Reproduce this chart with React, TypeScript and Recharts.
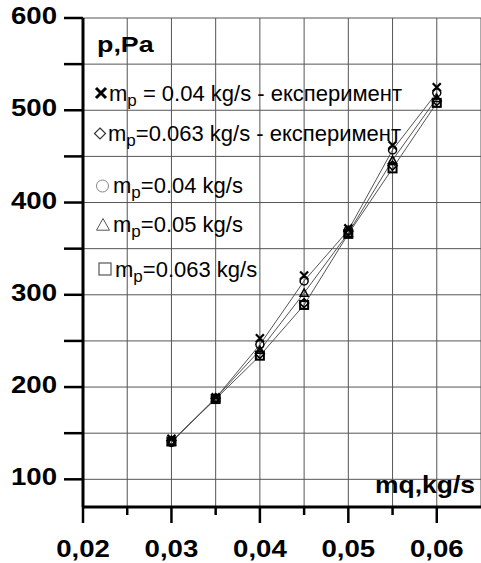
import { LineChart, Line, XAxis, YAxis, CartesianGrid, Customized } from "recharts";

// mq, kg/s
const mq = [0.03, 0.035, 0.04, 0.045, 0.05, 0.055, 0.06];
// experiment
const exp004 = [144, 189, 253, 321, 372, 462, 525];
const exp0063 = [142, 188, 236, 291, 369, 440, 510];
// calculated
const calc004 = [140, 188, 246, 315, 370, 457, 519];
const calc005 = [141, 188, 240, 302, 367, 446, 513];
const calc0063 = [141, 187, 234, 289, 366, 437, 508];

const xTicks = [0.02, 0.025, 0.03, 0.035, 0.04, 0.045, 0.05, 0.055, 0.06];
const yTicks = [100, 150, 200, 250, 300, 350, 400, 450, 500, 550, 600];

const legendRows = [
  { sym: "x", rest: " = 0.04 kg/s - експеримент" },
  { sym: "diamond", rest: "=0.063 kg/s - експеримент" },
  { sym: "circle", rest: "=0.04 kg/s" },
  { sym: "triangle", rest: "=0.05 kg/s" },
  { sym: "square", rest: "=0.063 kg/s" },
];

const data = mq.map((x, i) => ({
  x,
  e1: exp004[i],
  e2: exp0063[i],
  c1: calc004[i],
  c2: calc005[i],
  c3: calc0063[i],
}));

const FONT = "'Liberation Sans', Arial, sans-serif";

function Marker({ kind, cx, cy, s, color, sw }: any) {
  if (cx == null || cy == null) return null;
  if (kind === "x")
    return (
      <path
        d={`M${cx - s},${cy - s}L${cx + s},${cy + s}M${cx - s},${cy + s}L${cx + s},${cy - s}`}
        stroke={color}
        strokeWidth={sw}
        fill="none"
      />
    );
  if (kind === "diamond")
    return (
      <path
        d={`M${cx},${cy - s}L${cx + s},${cy}L${cx},${cy + s}L${cx - s},${cy}Z`}
        stroke={color}
        strokeWidth={sw}
        fill="none"
      />
    );
  if (kind === "circle")
    return <circle cx={cx} cy={cy} r={s} stroke={color} strokeWidth={sw} fill="none" />;
  if (kind === "triangle")
    return (
      <path
        d={`M${cx},${cy - s}L${cx + s},${cy + s * 0.8}L${cx - s},${cy + s * 0.8}Z`}
        stroke={color}
        strokeWidth={sw}
        fill="none"
      />
    );
  return (
    <rect x={cx - s} y={cy - s} width={s * 2} height={s * 2} stroke={color} strokeWidth={sw} fill="none" />
  );
}

const dotOf = (kind: string, s: number, sw: number) => (p: any) => (
  <Marker key={`${kind}-${p.index}`} kind={kind} cx={p.cx} cy={p.cy} s={s} color="#000" sw={sw} />
);

function XTick({ x, y, payload }: any) {
  const v = payload.value;
  const major = Math.round(v * 1000) % 10 === 0;
  return (
    <g>
      <line x1={x} x2={x} y1={y} y2={y + (major ? 16 : 8)} stroke="#000" strokeWidth={2.5} />
      {major && (
        <text
          transform={`translate(${x},${y + 50}) scale(1.2,1)`}
          textAnchor="middle"
          fontFamily={FONT}
          fontWeight="bold"
          fontSize={23}
          fill="#000"
        >
          {v.toFixed(2).replace(".", ",")}
        </text>
      )}
    </g>
  );
}

function YTick({ x, y, payload }: any) {
  const v = payload.value;
  const major = v % 100 === 0;
  return (
    <g>
      <line x1={x - 19} x2={x} y1={y} y2={y} stroke="#000" strokeWidth={2.5} />
      {major && (
        <text
          transform={`translate(${x - 26},${y + 6}) scale(1.2,1)`}
          textAnchor="end"
          fontFamily={FONT}
          fontWeight="bold"
          fontSize={23}
          fill="#000"
        >
          {v}
        </text>
      )}
    </g>
  );
}

const legendY = [101, 141, 193, 232, 277];
const legendX = [109, 108, 113, 113, 115];
const symPos = [
  { cx: 101, cy: 93, s: 5, sw: 3, c: "#000" },
  { cx: 100, cy: 133.5, s: 5.5, sw: 1.2, c: "#333" },
  { cx: 102.5, cy: 186, s: 6, sw: 1, c: "#888" },
  { cx: 103, cy: 225, s: 6.5, sw: 1, c: "#555" },
  { cx: 105, cy: 269, s: 6, sw: 1.2, c: "#555" },
];

function Overlay() {
  return (
    <g>
      <text
        transform="translate(97,52) scale(1.22,1)"
        fontFamily={FONT}
        fontWeight="bold"
        fontSize={22}
        fill="#000"
      >
        p,Pa
      </text>
      <text
        transform="translate(475,493) scale(1.15,1)"
        textAnchor="end"
        fontFamily={FONT}
        fontWeight="bold"
        fontSize={23}
        fill="#000"
      >
        mq,kg/s
      </text>
      {legendRows.map((r, i) => (
        <g key={i}>
          <Marker
            kind={r.sym}
            cx={symPos[i].cx}
            cy={symPos[i].cy}
            s={symPos[i].s}
            color={symPos[i].c}
            sw={symPos[i].sw}
          />
          <text x={legendX[i]} y={legendY[i]} fontFamily={FONT} fontSize={22} fill="#000">
            <tspan>m</tspan>
            <tspan fontSize={17} dy={5}>
              p
            </tspan>
            <tspan dy={-5}>{r.rest}</tspan>
          </text>
        </g>
      ))}
    </g>
  );
}

export default function App() {
  return (
    <div style={{ width: 481, height: 563, background: "#fff" }}>
      <style>{"body{margin:0}"}</style>
      <LineChart
        width={481}
        height={563}
        data={data}
        margin={{ top: 18, right: 0, left: 0, bottom: 0 }}
      >
        <CartesianGrid stroke="#555" strokeWidth={1} />
        <XAxis
          dataKey="x"
          type="number"
          domain={[0.02, 0.065]}
          ticks={xTicks}
          allowDataOverflow
          height={56}
          tickSize={0}
          tickMargin={0}
          tickLine={false}
          axisLine={{ stroke: "#000", strokeWidth: 3 }}
          tick={<XTick />}
          interval={0}
        />
        <YAxis
          type="number"
          domain={[70, 600]}
          ticks={yTicks}
          allowDataOverflow
          width={83}
          tickSize={0}
          tickMargin={0}
          tickLine={false}
          axisLine={{ stroke: "#000", strokeWidth: 3 }}
          tick={<YTick />}
          interval={0}
        />
        <Line dataKey="c1" stroke="#555" strokeWidth={1} dot={dotOf("circle", 4, 1.5)} activeDot={false} isAnimationActive={false} />
        <Line dataKey="c2" stroke="#555" strokeWidth={1} dot={dotOf("triangle", 4, 1.5)} activeDot={false} isAnimationActive={false} />
        <Line dataKey="c3" stroke="#555" strokeWidth={1} dot={dotOf("square", 4, 2)} activeDot={false} isAnimationActive={false} />
        <Line dataKey="e2" stroke="none" dot={dotOf("diamond", 4.5, 1.5)} activeDot={false} isAnimationActive={false} />
        <Line dataKey="e1" stroke="none" dot={dotOf("x", 4, 2.2)} activeDot={false} isAnimationActive={false} />
        <Customized component={Overlay} />
      </LineChart>
    </div>
  );
}
